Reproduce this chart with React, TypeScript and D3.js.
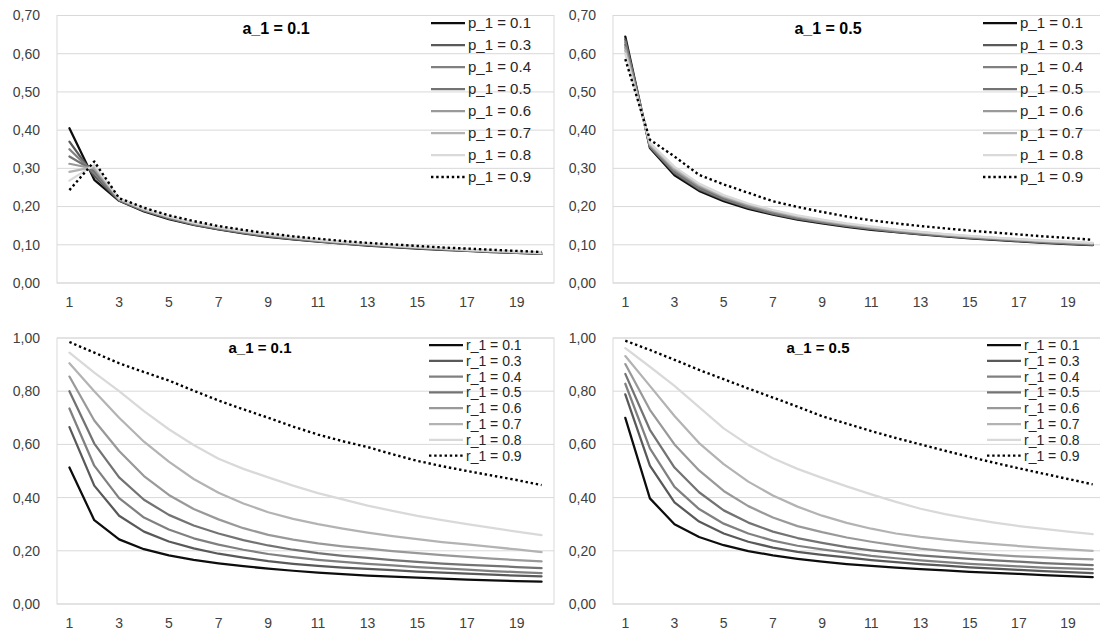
import * as d3 from "d3";

// x categories (periods)
const STEPS = [1, 2, 3, 4, 5, 6, 7, 8, 9, 10, 11, 12, 13, 14, 15, 16, 17, 18, 19, 20];

const TOP_TICKS = [0, 0.1, 0.2, 0.3, 0.4, 0.5, 0.6, 0.7];
const BOTTOM_TICKS = [0, 0.2, 0.4, 0.6, 0.8, 1.0];

const P_LABELS = ["p_1 = 0.1", "p_1 = 0.3", "p_1 = 0.4", "p_1 = 0.5", "p_1 = 0.6", "p_1 = 0.7", "p_1 = 0.8", "p_1 = 0.9"];
const R_LABELS = ["r_1 = 0.1", "r_1 = 0.3", "r_1 = 0.4", "r_1 = 0.5", "r_1 = 0.6", "r_1 = 0.7", "r_1 = 0.8", "r_1 = 0.9"];

// line shades, last one is the dotted black series
const SHADES = ["#0d0d0d", "#595959", "#808080", "#737373", "#999999", "#b3b3b3", "#d9d9d9", "#000000"];

// top-left: a_1 = 0.1, varying p_1
const P_A01 = [
  [0.405, 0.270, 0.215, 0.187, 0.167, 0.152, 0.140, 0.130, 0.121, 0.114, 0.108, 0.103, 0.098, 0.094, 0.090, 0.087, 0.084, 0.081, 0.079, 0.076],
  [0.370, 0.280, 0.216, 0.189, 0.169, 0.153, 0.141, 0.131, 0.122, 0.115, 0.109, 0.104, 0.099, 0.095, 0.091, 0.088, 0.085, 0.082, 0.079, 0.077],
  [0.350, 0.287, 0.217, 0.190, 0.170, 0.154, 0.142, 0.132, 0.123, 0.116, 0.110, 0.104, 0.100, 0.095, 0.092, 0.088, 0.085, 0.082, 0.080, 0.077],
  [0.331, 0.293, 0.218, 0.191, 0.171, 0.155, 0.143, 0.133, 0.124, 0.117, 0.110, 0.105, 0.100, 0.096, 0.092, 0.089, 0.086, 0.083, 0.080, 0.078],
  [0.312, 0.299, 0.219, 0.192, 0.172, 0.156, 0.144, 0.134, 0.125, 0.118, 0.111, 0.106, 0.101, 0.097, 0.093, 0.089, 0.086, 0.083, 0.081, 0.078],
  [0.291, 0.304, 0.220, 0.193, 0.173, 0.157, 0.145, 0.135, 0.126, 0.119, 0.112, 0.107, 0.102, 0.097, 0.094, 0.090, 0.087, 0.084, 0.081, 0.079],
  [0.268, 0.309, 0.221, 0.194, 0.174, 0.158, 0.146, 0.136, 0.127, 0.120, 0.113, 0.107, 0.103, 0.098, 0.094, 0.091, 0.087, 0.084, 0.082, 0.079],
  [0.243, 0.318, 0.222, 0.197, 0.177, 0.162, 0.149, 0.139, 0.130, 0.122, 0.116, 0.110, 0.105, 0.101, 0.097, 0.093, 0.090, 0.087, 0.084, 0.081],
];

// top-right: a_1 = 0.5, varying p_1
const P_A05 = [
  [0.645, 0.353, 0.282, 0.241, 0.214, 0.194, 0.179, 0.166, 0.156, 0.147, 0.139, 0.133, 0.127, 0.122, 0.117, 0.113, 0.109, 0.105, 0.102, 0.099],
  [0.637, 0.356, 0.287, 0.245, 0.218, 0.197, 0.181, 0.168, 0.158, 0.149, 0.141, 0.134, 0.128, 0.123, 0.118, 0.114, 0.110, 0.106, 0.103, 0.100],
  [0.630, 0.358, 0.290, 0.248, 0.220, 0.199, 0.183, 0.170, 0.159, 0.150, 0.142, 0.135, 0.129, 0.124, 0.119, 0.115, 0.111, 0.107, 0.104, 0.101],
  [0.623, 0.360, 0.293, 0.251, 0.222, 0.201, 0.185, 0.172, 0.161, 0.152, 0.144, 0.137, 0.130, 0.125, 0.120, 0.116, 0.112, 0.108, 0.105, 0.102],
  [0.616, 0.362, 0.296, 0.254, 0.225, 0.203, 0.187, 0.173, 0.162, 0.153, 0.145, 0.138, 0.132, 0.126, 0.121, 0.117, 0.113, 0.109, 0.106, 0.103],
  [0.608, 0.364, 0.300, 0.257, 0.227, 0.206, 0.189, 0.175, 0.164, 0.154, 0.146, 0.139, 0.133, 0.127, 0.122, 0.118, 0.114, 0.110, 0.107, 0.104],
  [0.600, 0.367, 0.304, 0.260, 0.230, 0.208, 0.191, 0.177, 0.166, 0.156, 0.148, 0.140, 0.134, 0.128, 0.123, 0.119, 0.115, 0.111, 0.108, 0.105],
  [0.586, 0.375, 0.331, 0.283, 0.258, 0.236, 0.214, 0.199, 0.186, 0.174, 0.164, 0.156, 0.149, 0.143, 0.137, 0.132, 0.127, 0.122, 0.118, 0.113],
];

// bottom-left: a_1 = 0.1, varying r_1
const R_A01 = [
  [0.513, 0.315, 0.243, 0.206, 0.183, 0.166, 0.153, 0.142, 0.133, 0.125, 0.118, 0.112, 0.107, 0.103, 0.099, 0.095, 0.092, 0.089, 0.086, 0.084],
  [0.665, 0.445, 0.332, 0.272, 0.235, 0.209, 0.189, 0.174, 0.161, 0.151, 0.143, 0.137, 0.132, 0.127, 0.122, 0.118, 0.114, 0.110, 0.107, 0.104],
  [0.735, 0.520, 0.398, 0.325, 0.280, 0.247, 0.223, 0.204, 0.188, 0.176, 0.166, 0.158, 0.151, 0.145, 0.139, 0.134, 0.129, 0.124, 0.120, 0.116],
  [0.800, 0.603, 0.476, 0.392, 0.335, 0.295, 0.265, 0.240, 0.220, 0.204, 0.191, 0.181, 0.173, 0.165, 0.158, 0.152, 0.147, 0.143, 0.139, 0.135],
  [0.855, 0.690, 0.575, 0.481, 0.410, 0.357, 0.318, 0.285, 0.260, 0.242, 0.228, 0.217, 0.208, 0.199, 0.191, 0.184, 0.177, 0.171, 0.165, 0.160],
  [0.905, 0.800, 0.700, 0.610, 0.535, 0.470, 0.418, 0.378, 0.345, 0.320, 0.300, 0.283, 0.268, 0.255, 0.244, 0.233, 0.224, 0.215, 0.205, 0.195],
  [0.945, 0.870, 0.800, 0.725, 0.657, 0.598, 0.546, 0.508, 0.476, 0.445, 0.417, 0.393, 0.370, 0.350, 0.331, 0.315, 0.300, 0.286, 0.272, 0.259],
  [0.985, 0.945, 0.905, 0.872, 0.840, 0.802, 0.765, 0.732, 0.700, 0.667, 0.637, 0.612, 0.590, 0.563, 0.538, 0.518, 0.500, 0.483, 0.466, 0.447],
];

// bottom-right: a_1 = 0.5, varying r_1
const R_A05 = [
  [0.700, 0.397, 0.300, 0.252, 0.221, 0.199, 0.183, 0.170, 0.159, 0.150, 0.143, 0.137, 0.131, 0.126, 0.121, 0.117, 0.113, 0.109, 0.105, 0.101],
  [0.788, 0.520, 0.382, 0.310, 0.265, 0.234, 0.212, 0.196, 0.185, 0.175, 0.165, 0.157, 0.150, 0.144, 0.138, 0.133, 0.128, 0.124, 0.120, 0.116],
  [0.828, 0.585, 0.440, 0.357, 0.302, 0.265, 0.238, 0.219, 0.205, 0.193, 0.181, 0.172, 0.164, 0.157, 0.151, 0.146, 0.141, 0.137, 0.134, 0.131],
  [0.865, 0.655, 0.513, 0.420, 0.352, 0.306, 0.272, 0.248, 0.230, 0.214, 0.202, 0.192, 0.183, 0.176, 0.170, 0.164, 0.159, 0.154, 0.150, 0.146],
  [0.902, 0.730, 0.600, 0.502, 0.425, 0.368, 0.325, 0.293, 0.270, 0.250, 0.234, 0.220, 0.208, 0.199, 0.191, 0.185, 0.179, 0.175, 0.171, 0.168],
  [0.932, 0.820, 0.707, 0.605, 0.526, 0.460, 0.408, 0.366, 0.332, 0.305, 0.283, 0.265, 0.252, 0.242, 0.233, 0.225, 0.218, 0.211, 0.205, 0.200],
  [0.962, 0.892, 0.820, 0.740, 0.660, 0.598, 0.548, 0.508, 0.474, 0.442, 0.412, 0.384, 0.358, 0.338, 0.321, 0.306, 0.293, 0.282, 0.272, 0.263],
  [0.990, 0.955, 0.918, 0.880, 0.845, 0.810, 0.776, 0.742, 0.706, 0.678, 0.650, 0.624, 0.600, 0.576, 0.553, 0.531, 0.510, 0.490, 0.470, 0.450],
];

const FONT = "'Liberation Sans', Arial, sans-serif";
const fmt = (v: number) => d3.format(".2f")(v).replace(".", ",");

type Box = { left: number; right: number; top: number; bottom: number };
type Legend = { x: number; top: number; step: number; size: number };

function Panel(props: {
  box: Box; yMax: number; ticks: number[]; series: number[][]; labels: string[];
  title: string; titleX: number; titleY: number; titleSize: number; legend: Legend;
}) {
  const { box, yMax, ticks, series, labels, title, titleX, titleY, titleSize, legend } = props;
  const x = d3.scaleBand<number>().domain(STEPS).range([box.left, box.right]);
  const y = d3.scaleLinear().domain([0, yMax]).range([box.bottom, box.top]);
  const cx = (s: number) => (x(s) as number) + x.bandwidth() / 2;
  const line = d3.line<number>().x((_, i) => cx(STEPS[i])).y((d) => y(d));

  return (
    <g>
      {ticks.map((t) => (
        <g key={t}>
          <line x1={box.left} x2={box.right} y1={y(t)} y2={y(t)} stroke="#d9d9d9" strokeWidth={1} />
          <text x={box.left - 17} y={y(t)} dy="0.35em" textAnchor="end" fontSize={14} fill="#404040">{fmt(t)}</text>
        </g>
      ))}
      <rect x={box.left} y={box.top} width={box.right - box.left} height={box.bottom - box.top}
        fill="none" stroke="#d9d9d9" strokeWidth={1} />
      {STEPS.filter((s) => s % 2 === 1).map((s) => (
        <text key={s} x={cx(s)} y={box.bottom + 19} dy="0.35em" textAnchor="middle" fontSize={14} fill="#404040">{s}</text>
      ))}
      {series.map((vals, i) => {
        const dotted = i === series.length - 1;
        return (
          <path key={i} d={line(vals) ?? ""} fill="none" stroke={SHADES[i]}
            strokeWidth={dotted ? 2.4 : 2.25}
            strokeDasharray={dotted ? "2.4 2.8" : undefined}
            strokeLinejoin="round" strokeLinecap={dotted ? "butt" : "round"} />
        );
      })}
      <text x={titleX} y={titleY} dy="0.35em" textAnchor="middle" fontSize={titleSize} fontWeight="bold" fill="#000">{title}</text>
      {labels.map((lab, i) => {
        const ly = legend.top + i * legend.step;
        const dotted = i === labels.length - 1;
        return (
          <g key={lab}>
            <line x1={legend.x} x2={legend.x + 34} y1={ly} y2={ly} stroke={SHADES[i]}
              strokeWidth={dotted ? 2.4 : 2.25} strokeDasharray={dotted ? "2.4 2.8" : undefined} />
            <text x={legend.x + 37} y={ly} dy="0.35em" fontSize={legend.size} fill="#262626">{lab}</text>
          </g>
        );
      })}
    </g>
  );
}

export default function App() {
  const topL: Box = { left: 57, right: 554, top: 15.5, bottom: 283 };
  const topR: Box = { left: 613, right: 1105, top: 15.5, bottom: 283 };
  const botL: Box = { left: 57, right: 554, top: 338, bottom: 604 };
  const botR: Box = { left: 613, right: 1105, top: 338, bottom: 604 };
  return (
    <svg width={1100} height={632} style={{ position: "absolute", left: 0, top: 0, background: "#fff" }}
      fontFamily={FONT}>
      <rect width={1100} height={632} fill="#fff" />
      <Panel box={topL} yMax={0.7} ticks={TOP_TICKS} series={P_A01} labels={P_LABELS}
        title="a_1 = 0.1" titleX={276} titleY={28} titleSize={16}
        legend={{ x: 431, top: 23, step: 22, size: 15 }} />
      <Panel box={topR} yMax={0.7} ticks={TOP_TICKS} series={P_A05} labels={P_LABELS}
        title="a_1 = 0.5" titleX={828} titleY={28} titleSize={16}
        legend={{ x: 983, top: 23, step: 22, size: 15 }} />
      <Panel box={botL} yMax={1} ticks={BOTTOM_TICKS} series={R_A01} labels={R_LABELS}
        title="a_1 = 0.1" titleX={260} titleY={348} titleSize={15}
        legend={{ x: 429, top: 345, step: 15.8, size: 14 }} />
      <Panel box={botR} yMax={1} ticks={BOTTOM_TICKS} series={R_A05} labels={R_LABELS}
        title="a_1 = 0.5" titleX={818} titleY={348} titleSize={15}
        legend={{ x: 987, top: 345, step: 15.8, size: 14 }} />
    </svg>
  );
}
